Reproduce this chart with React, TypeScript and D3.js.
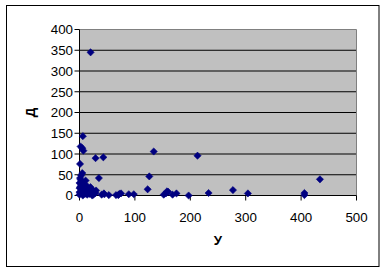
import React from "react";
import * as d3 from "d3";

const xValues = [20, 6, 2, 5, 7, 1, 29, 43, 134, 213, 126, 35, 434, 123, 277, 233, 304, 406, 406, 197, 175, 168, 160, 156, 152, 98, 89, 75, 70, 66, 53, 45, 40, 5, 3, 2, 11, 0, 5, 0, 14, 20, 17, 26, 29, 5, 14, 23, 0, 8, 3, 10, 1, 2, 7, 12, 18, 25, 0, 6, 158, 72, 44, 30, 22];
const yValues = [345, 143, 118, 114, 108, 76, 90, 92, 106, 96, 46, 42, 39, 15, 13, 6, 5, 6, 1, 0, 5, 2, 9, 5, 2, 3, 3, 5, 1, 1, 1, 3, 2, 54, 48, 38, 36, 30, 26, 18, 22, 20, 14, 10, 6, 6, 2, 0, 2, 14, 10, 4, 42, 22, 30, 8, 4, 2, 8, 0, 10, 4, 5, 12, 15];
const xTicks = [0, 100, 200, 300, 400, 500];
const yTicks = [0, 50, 100, 150, 200, 250, 300, 350, 400];
const xTitle = "У";
const yTitle = "Д";

export default function App() {
  const W = 385, H = 273;
  const x = d3.scaleLinear().domain([0, 500]).range([79.5, 356.5]);
  const y = d3.scaleLinear().domain([0, 400]).range([195.5, 29.5]);
  const font = "'Liberation Sans', Arial, sans-serif";
  const diamond = "M0,-3.6L3.6,0L0,3.6L-3.6,0Z";
  return (
    <div style={{ position: "absolute", left: 0, top: 0 }}>
      <svg width={W} height={H} style={{ display: "block" }}>
        <rect x={0} y={0} width={W} height={H} fill="#ffffff" />
        <rect x={6.5} y={5.5} width={372.5} height={261} fill="none" stroke="#000" strokeWidth={1} />
        <rect x={x(0)} y={y(400)} width={x(500) - x(0)} height={y(0) - y(400)} fill="#C0C0C0" />
        {yTicks.filter((t) => t > 0 && t < 400).map((t) => (
          <line key={"g" + t} x1={x(0)} x2={x(500)} y1={y(t)} y2={y(t)} stroke="#000" strokeWidth={1} />
        ))}
        <line x1={x(0)} x2={x(500)} y1={y(400)} y2={y(400)} stroke="#808080" strokeWidth={1} />
        <line x1={x(500)} x2={x(500)} y1={y(400)} y2={y(0)} stroke="#808080" strokeWidth={1} />
        <line x1={x(0)} x2={x(0)} y1={y(400)} y2={y(0)} stroke="#000" strokeWidth={1} />
        <line x1={x(0)} x2={x(500)} y1={y(0)} y2={y(0)} stroke="#000" strokeWidth={1} />
        {yTicks.map((t) => (
          <g key={"y" + t}>
            <line x1={x(0) - 5} x2={x(0)} y1={y(t)} y2={y(t)} stroke="#000" />
            <text x={73} y={y(t)} dy="0.36em" textAnchor="end" fontFamily={font} fontSize={13.33} fill="#000">{t}</text>
          </g>
        ))}
        {xTicks.map((t) => (
          <g key={"x" + t}>
            <line x1={x(t)} x2={x(t)} y1={y(0)} y2={y(0) + 5} stroke="#000" />
            <text x={x(t)} y={221.5} textAnchor="middle" fontFamily={font} fontSize={13.33} fill="#000">{t}</text>
          </g>
        ))}
        {xValues.map((v, i) => (
          <path key={"p" + i} d={diamond} transform={`translate(${x(v)},${y(yValues[i])})`} fill="#000080" stroke="#000080" strokeWidth={0.6} />
        ))}
        <text x={218} y={244.5} textAnchor="middle" fontFamily={font} fontWeight="bold" fontSize={13.33} fill="#000">{xTitle}</text>
        <text transform={`translate(34.5,${(y(0) + y(400)) / 2}) rotate(-90)`} textAnchor="middle" fontFamily={font} fontWeight="bold" fontSize={13.33} fill="#000">{yTitle}</text>
      </svg>
    </div>
  );
}
